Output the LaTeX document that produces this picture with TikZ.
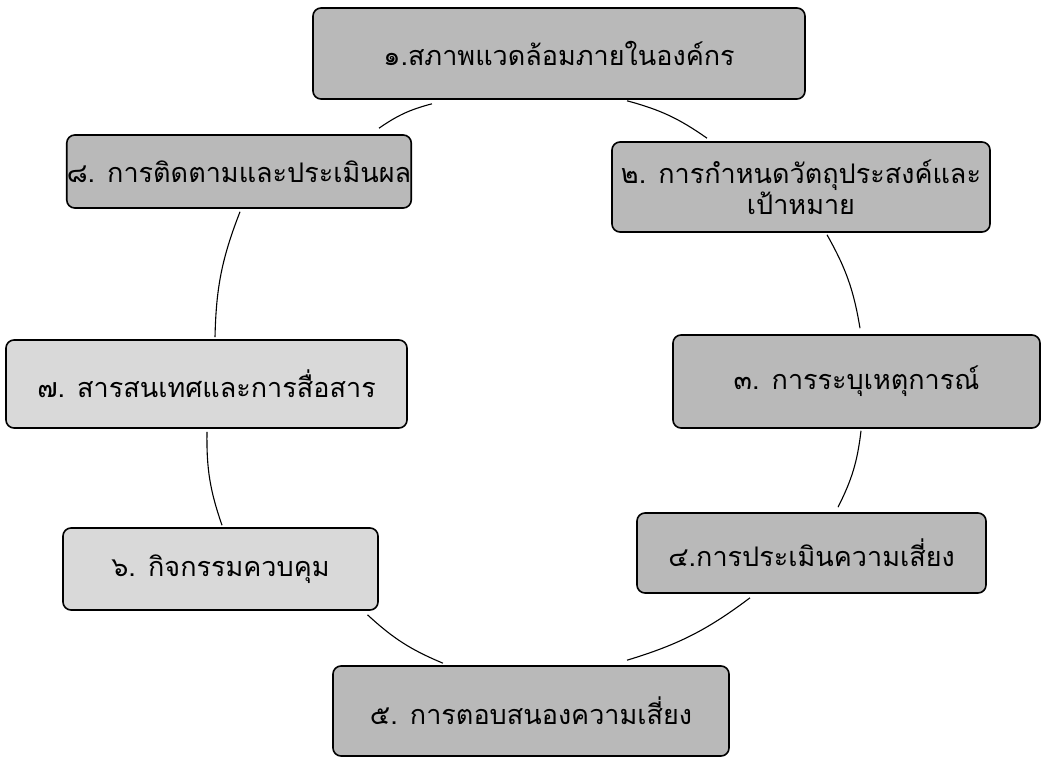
\documentclass[tikz,border=0pt]{standalone}
\usepackage{fontspec}
\newfontfamily\thaifont[Script=Thai]{Loma}
\usetikzlibrary{positioning}
\tikzset{
  step box/.style={draw=black, line width=1.6pt, rounded corners=8pt, fill=gray!55,
    font=\thaifont\fontsize{27}{31}\selectfont, align=center, inner sep=0pt},
  light/.style={fill=gray!30},
  link/.style={draw=black, line width=1.1pt, bend left=#1},
  link/.default=10
}
\begin{document}
\begin{tikzpicture}[x=1pt, y=-1pt]
\useasboundingbox (0,0) rectangle (1056,757);

\node[step box, minimum width=492pt, minimum height=91pt] (env) at (559,53.5) {๑.สภาพแวดล้อมภายในองค์กร};
\node[step box, minimum width=378pt, minimum height=90pt] (goal) at (801,187) {๒. การกำหนดวัตถุประสงค์และ\\เป้าหมาย};
\node[step box, minimum width=367pt, minimum height=93pt] (event) at (856.5,381.5) {๓. การระบุเหตุการณ์};
\node[step box, minimum width=349pt, minimum height=80pt] (assess) at (811.5,553) {๔.การประเมินความเสี่ยง};
\node[step box, minimum width=396pt, minimum height=90pt] (respond) at (531,711) {๕. การตอบสนองความเสี่ยง};
\node[step box, light, minimum width=315pt, minimum height=82pt] (control) at (220.5,569) {๖. กิจกรรมควบคุม};
\node[step box, light, minimum width=401pt, minimum height=88pt] (inform) at (206.5,384) {๗. สารสนเทศและการสื่อสาร};
\node[step box, minimum width=332pt, minimum height=73pt] (monitor) at (239,171.5) {๘. การติดตามและประเมินผล};

% the cycle, clockwise
\draw[link] ([xshift=68pt,yshift=-1pt]env.south) to ([xshift=-94pt,yshift=3pt]goal.north);
\draw[link] ([xshift=26pt,yshift=-2pt]goal.south) to ([xshift=3.5pt,yshift=6pt]event.north);
\draw[link] ([xshift=4.5pt,yshift=-2pt]event.south) to ([xshift=26.5pt,yshift=5pt]assess.north);
\draw[link] ([xshift=-61.5pt,yshift=-4pt]assess.south) to ([xshift=96pt,yshift=5pt]respond.north);
\draw[link] ([xshift=-88pt,yshift=2pt]respond.north) to ([xshift=147pt,yshift=-4pt]control.south);
\draw[link] ([xshift=1.5pt,yshift=2pt]control.north) to ([xshift=0.5pt,yshift=-3pt]inform.south);
\draw[link] ([xshift=8.5pt,yshift=2pt]inform.north) to ([xshift=1pt,yshift=-3pt]monitor.south);
\draw[link] ([xshift=140pt,yshift=6pt]monitor.north) to ([xshift=-127pt,yshift=-4pt]env.south);
\end{tikzpicture}
\end{document}
